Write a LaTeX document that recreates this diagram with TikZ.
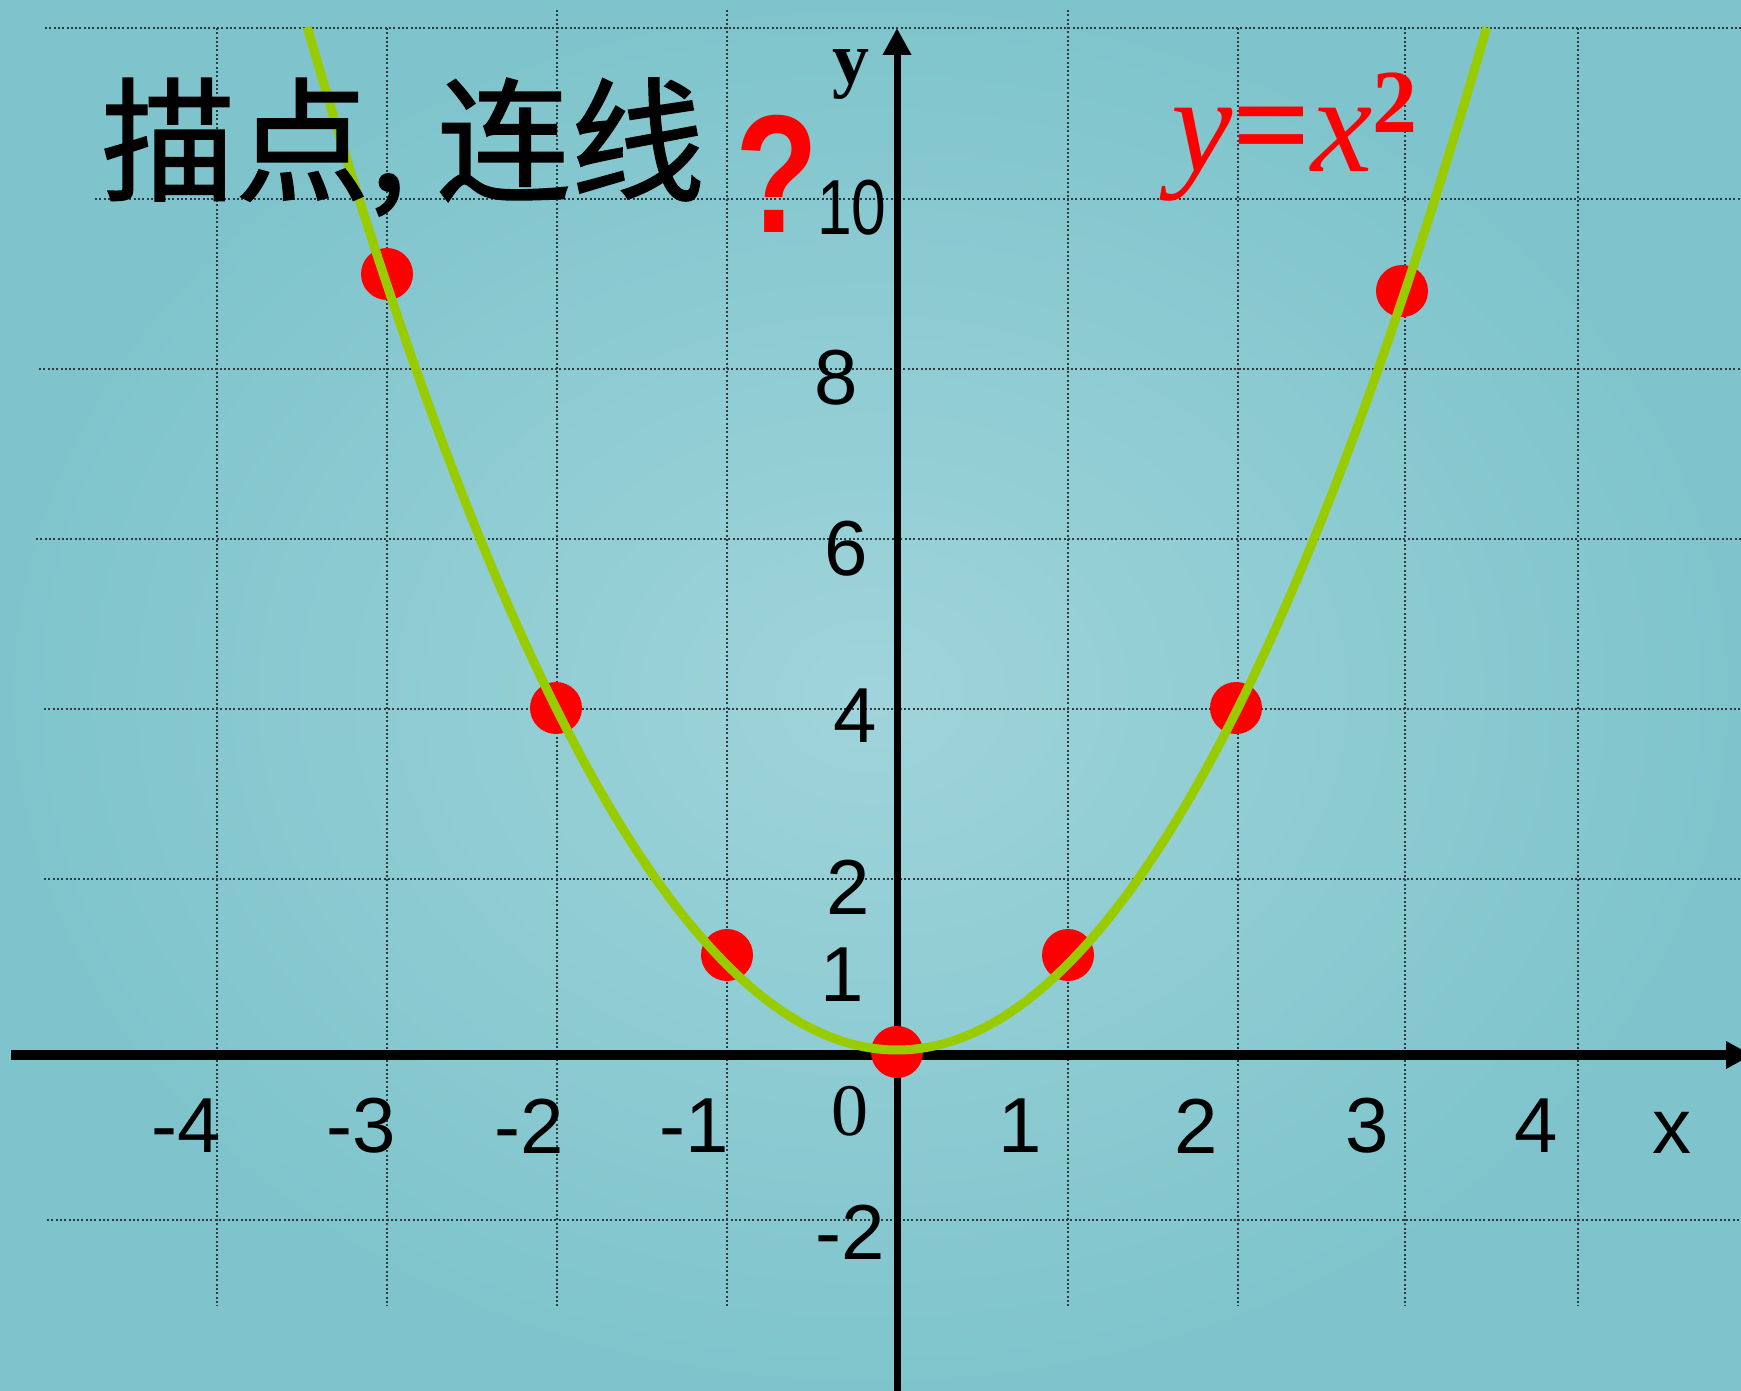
\documentclass[tikz,border=0pt]{standalone}
\usepackage{fontspec}
\setmainfont{Liberation Serif}
\newfontfamily\cjk[FakeBold=1.2]{Noto Sans CJK SC}
\newfontfamily\numfont{Liberation Sans}
\usetikzlibrary{arrows.meta}
\definecolor{bgin}{HTML}{9FD4DA}
\definecolor{bgout}{HTML}{7FC4CC}
\definecolor{curvegreen}{HTML}{99CC00}
\definecolor{gridgray}{HTML}{303C40}
\begin{document}
\begin{tikzpicture}[x=0.5pt,y=-0.5pt,
  gridline/.style={gridgray, line width=1pt, dash pattern=on 1pt off 1.15pt},
  dotnode/.style={circle, fill=red, minimum size=26pt, inner sep=0pt},
  ticklab/.style={font=\numfont\fontsize{39}{39}\selectfont, inner sep=0pt},
  seriflab/.style={font=\fontsize{39}{39}\selectfont, inner sep=0pt},
  qmark/.style={inner sep=0pt, font=\numfont\bfseries\fontsize{84}{84}\selectfont}]
\useasboundingbox (0,0) rectangle (1741,1391);
\clip (0,0) rectangle (1741,1391);
\shade[inner color=bgin, outer color=bgout] (0,0) rectangle (1741,1391);
% grid
\foreach \yy/\xs in {28/45, 199/95, 369/39, 539/36, 709/44, 879/44, 1220/47}
  \draw[gridline] (\xs,\yy) -- (1741,\yy);
\foreach \xx/\ys in {216.7/28, 386.9/28, 557/10, 727.3/10, 1067.9/10, 1238/28, 1405/28, 1578/28}
  \draw[gridline] (\xx,\ys) -- (\xx,1306);
% axes
\coordinate (xs) at (11,1055);
\coordinate (xe) at (1752,1055);
\coordinate (ys) at (897,1400);
\coordinate (ye) at (897,28);
\draw[line width=5pt, -{Triangle[length=13pt,width=13pt]}] (xs) -- (xe);
\draw[line width=3.5pt, -{Triangle[length=13.5pt,width=13.5pt]}] (ys) -- (ye);
% points
\node[dotnode] (pm3) at (387,274) {};
\node[dotnode] (pp3) at (1402,291) {};
\node[dotnode] (pm2) at (556,708) {};
\node[dotnode] (pp2) at (1236,708) {};
\node[dotnode] (pm1) at (727,955) {};
\node[dotnode] (pp1) at (1068,955) {};
\node[dotnode] (p0) at (897,1052) {};
% curve
\draw[curvegreen, line width=4.5pt] plot[domain=-3.465:3.465, samples=140, smooth] ({897+170.2*\x},{1050-85.2*\x*\x});
% x tick labels
\node[ticklab] (tm4) at (186,1126) {-4};
\node[ticklab] (tm3) at (361,1126) {-3};
\node[ticklab] (tm2) at (529,1126) {-2};
\node[ticklab] (tm1) at (694,1126) {-1};
\node[ticklab] (tp1) at (1020,1126) {1};
\node[ticklab] (tp2) at (1196,1126) {2};
\node[ticklab] (tp3) at (1367,1126) {3};
\node[ticklab] (tp4) at (1536,1126) {4};
\node[ticklab] (xl) at (1672,1133) {x};
% y tick labels
\node[ticklab] (ty10) at (852,208) {\scalebox{0.8}[1]{10}};
\node[ticklab] (ty8) at (836,378) {8};
\node[ticklab] (ty6) at (846,549) {6};
\node[ticklab] (ty4) at (855,716) {4};
\node[ticklab] (ty2) at (848,887) {2};
\node[ticklab] (ty1) at (842,975) {1};
\node[ticklab] (tym2) at (850,1232) {-2};
\node[seriflab, font=\fontsize{37}{37}\selectfont] (o) at (850,1111) {0};
\node[seriflab, font=\bfseries\fontsize{37}{37}\selectfont] (yl) at (851,75) {y};
% title
\node[inner sep=0pt, font=\cjk\fontsize{67}{67}\selectfont] (title) at (403,147) {描点, 连线};
\node[qmark, text=red] (q) at (777,174) {\scalebox{0.81}[1]{?}};
% formula
\node[anchor=base west, inner sep=0pt, text=red, font=\fontsize{69}{69}\selectfont] (eq) at (1171,172)
  {\itshape y\upshape\bfseries =\mdseries\itshape x\upshape\raisebox{19.5pt}{\fontsize{45}{45}\selectfont\bfseries 2}};
\end{tikzpicture}
\end{document}
